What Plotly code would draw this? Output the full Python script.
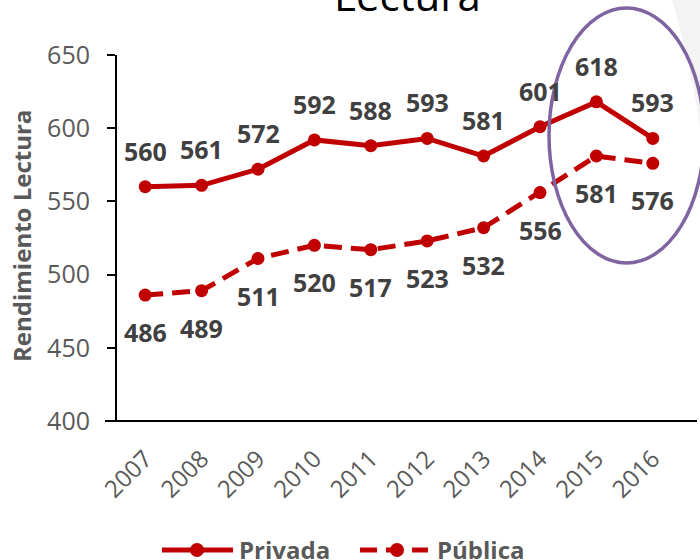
import plotly.graph_objects as go

years = ["2007", "2008", "2009", "2010", "2011", "2012", "2013", "2014", "2015", "2016"]
privada = [560, 561, 572, 592, 588, 593, 581, 601, 618, 593]
publica = [486, 489, 511, 520, 517, 523, 532, 556, 581, 576]
y_ticks = [400, 450, 500, 550, 600, 650]
series_names = ["Privada", "Pública"]

RED = "#C00000"
GRAY = "#595959"
LABEL = "#404040"
FONT = "Open Sans"

# plot area in pixels
L, R, T, B = 117, 19, 55, 139
W, H = 700, 560
PW, PH = W - L - R, H - T - B


def px(x):
    return (x - L) / PW


def py(y):
    return (H - B - y) / PH


fig = go.Figure()
fig.add_trace(go.Scatter(
    x=years, y=privada, name=series_names[0], mode="lines+markers",
    line=dict(color=RED, width=5),
    marker=dict(color=RED, size=13),
))
fig.add_trace(go.Scatter(
    x=years, y=publica, name=series_names[1], mode="lines+markers",
    line=dict(color=RED, width=5, dash="18px,9px"),
    marker=dict(color=RED, size=13),
))

lab_font = dict(family=FONT, size=25, color=LABEL, weight="bold")
annotations = []
for i, v in enumerate(privada):
    annotations.append(dict(x=i, y=v, xref="x", yref="y", text=str(v), showarrow=False,
                            yshift=36, font=lab_font))
for i, v in enumerate(publica):
    annotations.append(dict(x=i, y=v, xref="x", yref="y", text=str(v), showarrow=False,
                            yshift=-37, font=lab_font))

annotations.append(dict(x=px(407), y=py(25), xref="paper", yref="paper", text="Lectura",
                        showarrow=False, xanchor="center", yanchor="bottom",
                        font=dict(family=FONT, size=42, color="#000000")))
annotations.append(dict(x=px(21), y=py(236), xref="paper", yref="paper", text="Rendimiento Lectura",
                        showarrow=False, textangle=-90, xanchor="center", yanchor="middle",
                        font=dict(family=FONT, size=24, color=GRAY, weight="bold")))

# custom legend (longer symbols, as in the reference)
leg_y = 549
leg_font = dict(family=FONT, size=24, color=GRAY, weight="bold")
annotations.append(dict(x=px(237), y=py(leg_y), xref="paper", yref="paper", text=series_names[0],
                        showarrow=False, xanchor="left", yanchor="middle", font=leg_font))
annotations.append(dict(x=px(435), y=py(leg_y), xref="paper", yref="paper", text=series_names[1],
                        showarrow=False, xanchor="left", yanchor="middle", font=leg_font))


def dot(cx, cy, r=7):
    return dict(type="circle", xref="paper", yref="paper",
                x0=px(cx - r), x1=px(cx + r), y0=py(cy + r), y1=py(cy - r),
                fillcolor=RED, line=dict(width=0))


band = (f"M {px(672)},{py(0)} Q {px(690)},{py(60)} {px(702)},{py(140)} "
        f"L {px(702)},{py(0)} Z")

sym_y = leg_y + 1
shapes = [
    dict(type="path", path=band, xref="paper", yref="paper",
         fillcolor="#F3F3F3", line=dict(width=0), layer="below"),
    dict(type="line", xref="paper", yref="paper", x0=px(105), x1=px(697), y0=0, y1=0,
         line=dict(color="#000000", width=2)),
    dict(type="circle", xref="paper", yref="paper",
         x0=px(549), x1=px(704), y0=py(263), y1=py(8),
         line=dict(color="#8064A2", width=3.5)),
    dict(type="line", xref="paper", yref="paper", x0=px(162), x1=px(233), y0=py(sym_y), y1=py(sym_y),
         line=dict(color=RED, width=5)),
    dot(197, sym_y),
    dict(type="line", xref="paper", yref="paper", x0=px(360), x1=px(428), y0=py(sym_y), y1=py(sym_y),
         line=dict(color=RED, width=5, dash="17px,9px")),
    dot(397, sym_y),
]

fig.update_layout(
    width=W, height=H,
    margin=dict(l=L, r=R, t=T, b=B, autoexpand=False),
    plot_bgcolor="white", paper_bgcolor="white",
    showlegend=False,
    annotations=annotations,
    shapes=shapes,
    xaxis=dict(type="category", range=[-0.5, 9.5], showgrid=False, showline=False,
               zeroline=False, ticks="", tickangle=-45, ticklabelstandoff=18,
               automargin=False,
               tickfont=dict(family=FONT, size=24, color=GRAY)),
    yaxis=dict(range=[400, 650], tickvals=y_ticks, showgrid=False, zeroline=False,
               showline=True, linecolor="#000000", linewidth=2,
               ticks="outside", ticklen=8, tickwidth=2, tickcolor="#000000",
               ticklabelstandoff=12, automargin=False,
               tickfont=dict(family=FONT, size=25, color=GRAY)),
)

fig.write_html("out.html", config={"displayModeBar": False},
               post_script="document.body.style.margin='0';document.body.style.overflow='hidden';")
